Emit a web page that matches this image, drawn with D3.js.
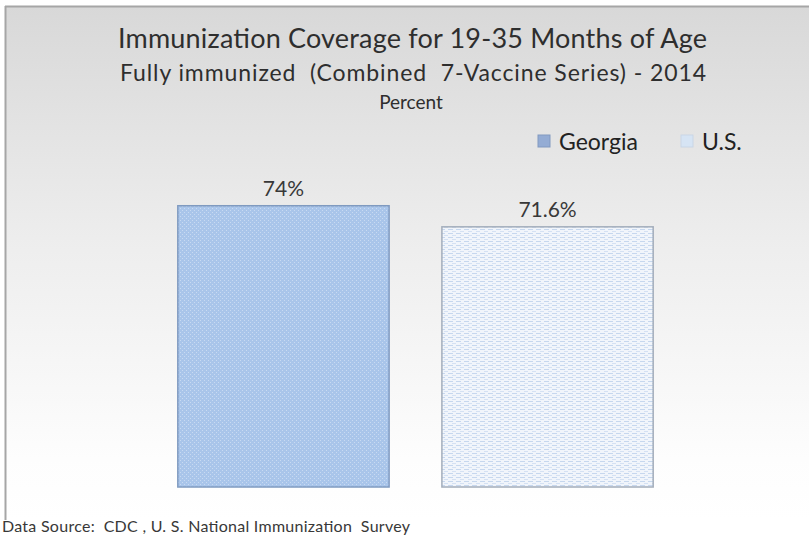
<!DOCTYPE html>
<html>
<head>
<meta charset="utf-8">
<script src="https://cdn.jsdelivr.net/npm/d3@7"></script>
<style>
  html, body { margin: 0; padding: 0; background: #fff; }
  svg { display: block; }
</style>
</head>
<body>
<script>
// Immunization coverage, fully immunized children 19-35 months, 2014
const categories = ["Georgia", "U.S."];
const values = [74, 71.6];
const valueLabels = ["74%", "71.6%"];
const titleLines = [
  "Immunization Coverage for 19-35 Months of Age",
  "Fully immunized  (Combined  7-Vaccine Series) - 2014"
];
const unitLabel = "Percent";
const sourceNote = "Data Source:  CDC , U. S. National Immunization  Survey";

const W = 809, H = 538;
const font = "Lato, 'Open Sans', sans-serif";
const ink = "#2e2e2e";

const svg = d3.select("body").append("svg")
  .attr("width", W).attr("height", H);

const defs = svg.append("defs");

// background gradient of the chart area
const bg = defs.append("linearGradient").attr("id", "bg")
  .attr("x1", 0).attr("y1", 0).attr("x2", 0).attr("y2", 1);
bg.append("stop").attr("offset", "0%").attr("stop-color", "#d8d8d8");
bg.append("stop").attr("offset", "45%").attr("stop-color", "#ededed");
bg.append("stop").attr("offset", "88%").attr("stop-color", "#fdfdfd");
bg.append("stop").attr("offset", "100%").attr("stop-color", "#ffffff");

// dotted fill for Georgia
const p1 = defs.append("pattern").attr("id", "dots")
  .attr("width", 4).attr("height", 4).attr("patternUnits", "userSpaceOnUse");
p1.append("rect").attr("width", 4).attr("height", 4).attr("fill", "#a9c5ea");
p1.append("rect").attr("x", 0).attr("y", 0).attr("width", 1).attr("height", 1).attr("fill", "#c8daf2");
p1.append("rect").attr("x", 2).attr("y", 2).attr("width", 1).attr("height", 1).attr("fill", "#c8daf2");

// dashed horizontal fill for U.S.
const p2 = defs.append("pattern").attr("id", "dashes")
  .attr("width", 8).attr("height", 4).attr("patternUnits", "userSpaceOnUse");
p2.append("rect").attr("width", 8).attr("height", 4).attr("fill", "#f1f5fb");
p2.append("rect").attr("x", 0).attr("y", 1).attr("width", 5).attr("height", 1).attr("fill", "#c6d7ee");
p2.append("rect").attr("x", 4).attr("y", 3).attr("width", 5).attr("height", 1).attr("fill", "#d4e1f3");

const fills = ["url(#dots)", "url(#dashes)"];
const strokes = ["#7f9ac0", "#a3adbb"];
const swatchFills = ["#94acd4", "#d6e4f4"];
const swatchStrokes = ["#8199c0", "#c9d6e6"];

// chart area
svg.append("rect").attr("x", 5).attr("y", 6).attr("width", W).attr("height", 514)
  .attr("fill", "url(#bg)");
svg.append("line").attr("x1", 5).attr("x2", W).attr("y1", 6.5).attr("y2", 6.5)
  .attr("stroke", "#a6a6a6").attr("stroke-width", 2);
svg.append("line").attr("x1", 5.5).attr("x2", 5.5).attr("y1", 6).attr("y2", 520)
  .attr("stroke", "#a6a6a6").attr("stroke-width", 2);

// titles
svg.append("text").attr("x", 118).attr("y", 48)
  .attr("font-family", font).attr("font-size", 27).attr("fill", ink)
  .attr("textLength", 589).attr("lengthAdjust", "spacing")
  .text(titleLines[0]);
svg.append("text").attr("x", 120).attr("y", 81)
  .attr("font-family", font).attr("font-size", 23).attr("fill", ink)
  .attr("textLength", 586).attr("lengthAdjust", "spacing")
  .style("white-space", "pre")
  .text(titleLines[1]);
svg.append("text").attr("x", 411).attr("y", 109).attr("text-anchor", "middle")
  .attr("font-family", font).attr("font-size", 19).attr("fill", ink)
  .text(unitLabel);

// scales
const x = d3.scaleBand().domain(categories).range([125, 706]).paddingInner(0.2).paddingOuter(0.2);
const y = d3.scaleLinear().domain([42, 80]).range([487, 153]);

// bars
const bars = svg.append("g");
bars.selectAll("rect").data(values).join("rect")
  .attr("x", (d, i) => x(categories[i]))
  .attr("y", d => y(d))
  .attr("width", x.bandwidth())
  .attr("height", d => y.range()[0] - y(d))
  .attr("fill", (d, i) => fills[i])
  .attr("stroke", (d, i) => strokes[i])
  .attr("stroke-width", 1.5);

// value labels
svg.append("g").selectAll("text").data(values).join("text")
  .attr("x", (d, i) => x(categories[i]) + x.bandwidth() / 2)
  .attr("y", d => y(d) - 10)
  .attr("text-anchor", "middle")
  .attr("font-family", font).attr("font-size", 21).attr("fill", "#383838")
  .text((d, i) => valueLabels[i]);

// legend
const legendX = [538, 681];
const legend = svg.append("g");
categories.forEach((c, i) => {
  legend.append("rect").attr("x", legendX[i]).attr("y", 135)
    .attr("width", 12).attr("height", 12)
    .attr("fill", swatchFills[i]).attr("stroke", swatchStrokes[i]).attr("stroke-width", 1);
  legend.append("text").attr("x", legendX[i] + 21).attr("y", 150)
    .attr("font-family", font).attr("font-size", 23).attr("fill", "#222")
    .text(c);
});

// source note
svg.append("text").attr("x", 2).attr("y", 532)
  .attr("font-family", font).attr("font-size", 16).attr("fill", "#383838")
  .attr("textLength", 408).attr("lengthAdjust", "spacing")
  .style("white-space", "pre")
  .text(sourceNote);
</script>
</body>
</html>
